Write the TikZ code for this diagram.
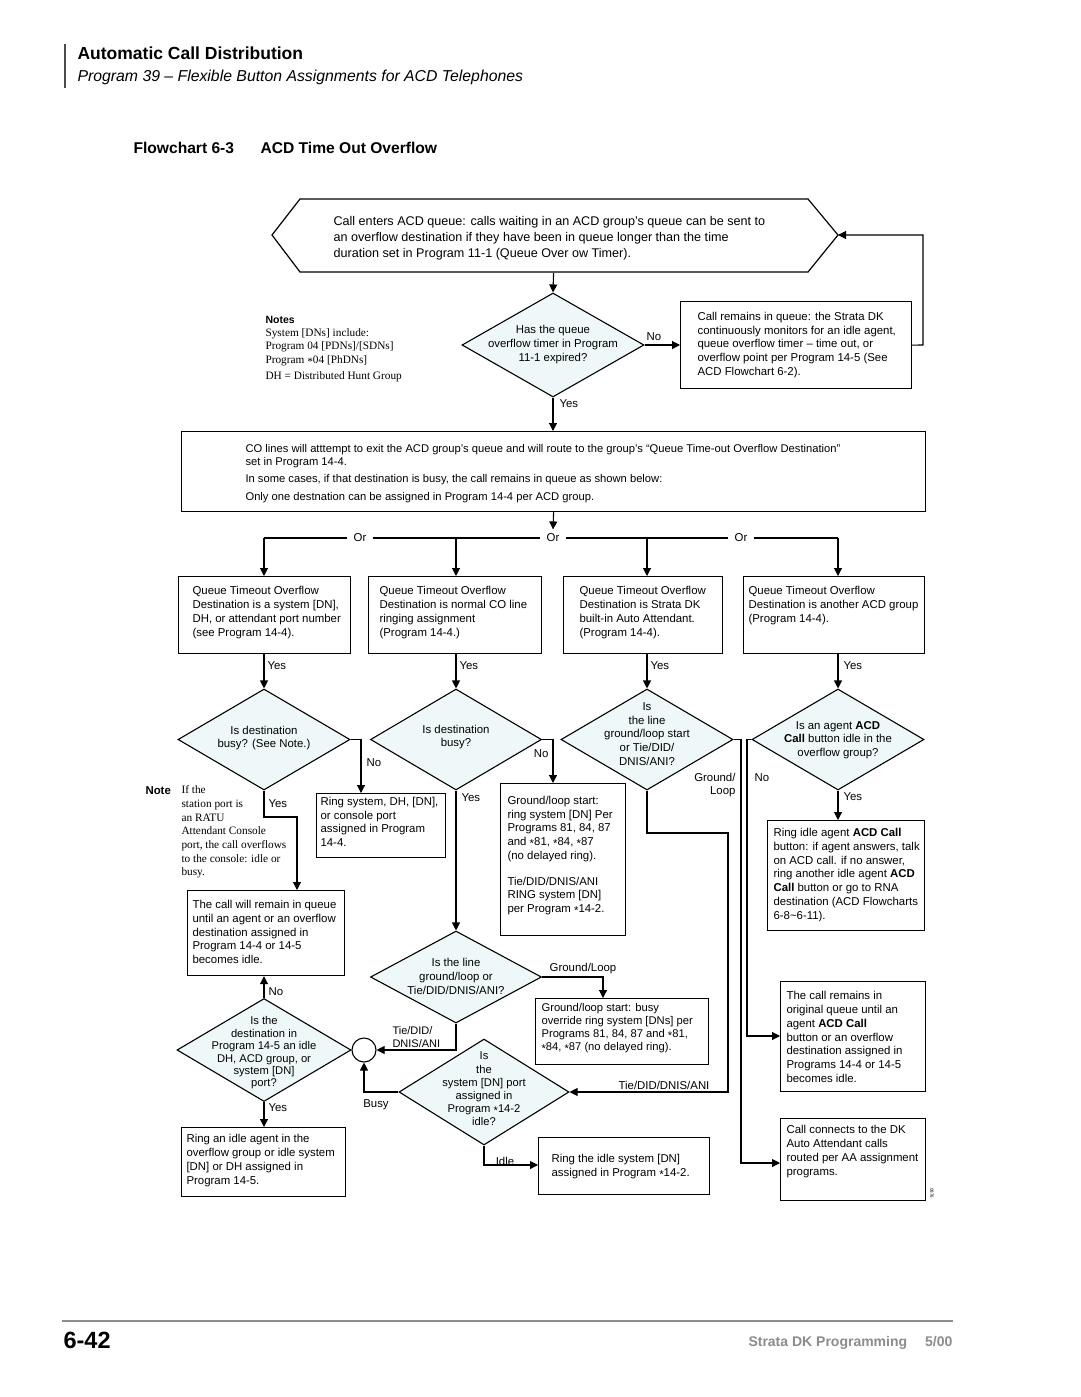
\documentclass[tikz,border=0pt]{standalone}
\usepackage{fontspec}
\setmainfont{Liberation Sans}
\newfontfamily\notefont{Liberation Serif}
\usetikzlibrary{arrows.meta,shapes.geometric,calc}
\definecolor{dfill}{HTML}{EFF8F8}
\definecolor{footgray}{HTML}{8C8C8C}
\newcommand\bxf{\fontsize{11.4}{13.7}\selectfont}
\newcommand\cast{\raisebox{-0.35ex}{*}}
\begin{document}
\begin{tikzpicture}[x=1pt,y=-1pt,line width=1.1pt,
  arr/.style={-{Triangle[length=8pt,width=8pt]}},
  box/.style={draw,line width=1.2pt,inner sep=0pt,anchor=north west},
  dia/.style={draw,diamond,fill=dfill,inner sep=0pt,line width=1.1pt},
  txt/.style={font=\bxf,align=left,inner sep=0pt,anchor=west},
  ctxt/.style={font=\bxf,align=center,inner sep=0pt},
  lbl/.style={font=\bxf,inner sep=0pt},
  note/.style={font=\notefont\fontsize{11.3}{13.7}\selectfont,align=left,inner sep=0pt,anchor=west},
  bhead/.style={anchor=west,inner sep=0pt,font=\bfseries\fontsize{11.4}{13}\selectfont},
]
\fill[white] (0,0) rectangle (1080,1397);
\useasboundingbox (0,0) rectangle (1080,1397);

% ---------- header ----------
\draw[line width=1.2pt,black!70] (65,44) -- (65,88);
\node[anchor=west,inner sep=0pt,font=\bfseries\fontsize{17.5}{20}\selectfont] (title) at (77,53) {Automatic Call Distribution};
\node[anchor=west,inner sep=0pt,font=\itshape\fontsize{15.8}{18}\selectfont] (subt) at (77,77) {Program 39 – Flexible Button Assignments for ACD Telephones};
\node[anchor=west,inner sep=0pt,font=\bfseries\fontsize{15.6}{18}\selectfont] (fc) at (133,148) {Flowchart 6-3};
\node[anchor=west,inner sep=0pt,font=\bfseries\fontsize{15.6}{18}\selectfont] (fct) at (260,148) {ACD Time Out Overflow};

% ---------- hexagon ----------
\coordinate (hexW) at (272,235);
\coordinate (hexE) at (838,235);
\draw[line width=1.2pt] (hexW) -- (300,199) -- (808,199) -- (hexE) -- (808,272) -- (300,272) -- cycle;
\node[minimum width=506,minimum height=73,inner sep=0pt,anchor=north west] (hex) at (300,199) {};
\node[txt,font=\fontsize{12.6}{16}\selectfont] (hexT) at (333,238) {Call enters ACD queue: calls waiting in an ACD group’s queue can be sent to\\an overflow destination if they have been in queue longer than the time\\duration set in Program 11-1 (Queue Over ow Timer).};

% ---------- first decision ----------
\node[dia,minimum width=182,minimum height=104] (d1) at (553,345) {};
\node[ctxt] (d1T) at (553,344.5) {Has the queue\\overflow timer in Program\\11-1 expired?};
\draw[arr] (hex.south) -- (d1.north);

\node[box,minimum width=231,minimum height=87] (rb) at (680,301) {};
\node[txt] (rbT) at (697,345) {Call remains in queue: the Strata DK\\continuously monitors for an idle agent,\\queue overflow timer – time out, or\\overflow point per Program 14-5 (See\\ACD Flowchart 6-2).};
\draw[arr] (d1.east) -- (d1.east -| rb.west);
\node[lbl,anchor=west] (no1) at (646,337) {No};
\draw[arr] (rb.east) -- (923,345) -- (923,235) -- (hexE);

% notes
\node[bhead,font=\bfseries\fontsize{10.5}{12}\selectfont] (notesH) at (265,320) {Notes};
\node[note] (notesT) at (265,355) {System [DNs] include:\\Program 04 [PDNs]/[SDNs]\\Program \cast04 [PhDNs]\\[2pt]DH = Distributed Hunt Group};

% ---------- big box ----------
\node[box,minimum width=744,minimum height=80] (big) at (181,431) {};
\node[txt,font=\fontsize{11.2}{12.6}\selectfont] (bigT) at (245,473.5) {CO lines will atttempt to exit the ACD group’s queue and will route to the group’s “Queue Time-out Overflow Destination”\\set in Program 14-4.\\[5pt]In some cases, if that destination is busy, the call remains in queue as shown below:\\[5pt]Only one destnation can be assigned in Program 14-4 per ACD group.};
\draw[arr] (d1.south) -- (d1.south |- big.north);
\node[lbl,anchor=west] (yes1) at (559,404) {Yes};

% ---------- Or distribution ----------
\coordinate (jA) at (264,538);
\coordinate (jB) at (456,538);
\coordinate (jC) at (647,538);
\coordinate (jD) at (838,538);
\node[lbl,inner xsep=6pt] (orA) at (360,538) {Or};
\node[lbl,inner xsep=6pt,inner ysep=4pt] (orB) at (553,538) {Or};
\node[lbl,inner xsep=6pt] (orC) at (741,538) {Or};
\draw (jA) -- (orA) -- (orB) -- (orC) -- (jD);
\draw[arr] (big.south) -- (orB.north);

\node[box,minimum width=172,minimum height=77] (qa) at (178,576) {};
\node[box,minimum width=173,minimum height=77] (qb) at (368,576) {};
\node[box,minimum width=159,minimum height=77] (qc) at (563,576) {};
\node[box,minimum width=181,minimum height=77] (qd) at (743,576) {};
\node[txt] (qaT) at (192,612.5) {Queue Timeout Overflow\\Destination is a system [DN],\\DH, or attendant port number\\(see Program 14-4).};
\node[txt] (qbT) at (379,612.5) {Queue Timeout Overflow\\Destination is normal CO line\\ringing assignment\\(Program 14-4.)};
\node[txt] (qcT) at (579,612.5) {Queue Timeout Overflow\\Destination is Strata DK\\built-in Auto Attendant.\\(Program 14-4).};
\node[txt] (qdT) at (748,605.5) {Queue Timeout Overflow\\Destination is another ACD group\\(Program 14-4).};
\draw[arr] (jA) -- (jA |- qa.north);
\draw[arr] (jB) -- (jB |- qb.north);
\draw[arr] (jC) -- (jC |- qc.north);
\draw[arr] (jD) -- (jD |- qd.north);

% ---------- second row decisions ----------
\node[dia,minimum width=172,minimum height=101] (dA) at (264,739.5) {};
\node[dia,minimum width=171,minimum height=101] (dB) at (456,739.5) {};
\node[dia,minimum width=172,minimum height=101] (dC) at (647,739.5) {};
\node[dia,minimum width=172,minimum height=101] (dD) at (838,739.5) {};
\node[ctxt] (dAT) at (264,738) {Is destination\\busy? (See Note.)};
\node[ctxt] (dBT) at (456,737) {Is destination\\busy?};
\node[ctxt] (dCT) at (647,734) {Is\\the line\\ground/loop start\\or Tie/DID/\\DNIS/ANI?};
\node[ctxt] (dDT) at (838,740) {Is an agent \textbf{ACD}\\\textbf{Call} button idle in the\\overflow group?};
\draw[arr] (jA |- qa.south) -- (dA.north);
\draw[arr] (jB |- qb.south) -- (dB.north);
\draw[arr] (jC |- qc.south) -- (dC.north);
\draw[arr] (jD |- qd.south) -- (dD.north);
\node[lbl,anchor=west] (yA) at (267,666) {Yes};
\node[lbl,anchor=west] (yB) at (459,666) {Yes};
\node[lbl,anchor=west] (yC) at (650,666) {Yes};
\node[lbl,anchor=west] (yD) at (843,666) {Yes};

% column A
\node[box,minimum width=129,minimum height=64] (ringA) at (316,793) {};
\node[txt] (ringAT) at (320,822) {Ring system, DH, [DN],\\or console port\\assigned in Program\\14-4.};
\draw[arr] (dA.east) -- (361,739.5) -- (361,793);
\node[lbl,anchor=west] (noA) at (366,763) {No};
\node[box,minimum width=157,minimum height=85] (remain) at (187,890) {};
\node[txt] (remainT) at (192,932) {The call will remain in queue\\until an agent or an overflow\\destination assigned in\\Program 14-4 or 14-5\\becomes idle.};
\draw[arr] (dA.south) -- (264,817) -- (297,817) -- (297,890);
\node[lbl,anchor=west] (yA2) at (268,804) {Yes};
\node[bhead] (noteH) at (145,791) {Note};
\node[note] (noteT) at (181,832) {If the\\station port is\\an RATU\\Attendant Console\\port, the call overflows\\to the console: idle or\\busy.};

% column B
\node[box,minimum width=125,minimum height=152] (glB) at (500,783) {};
\node[txt] (glBT) at (507,855.5) {Ground/loop start:\\ring system [DN] Per\\Programs 81, 84, 87\\and \cast81, \cast84, \cast87\\(no delayed ring).\\[12pt]Tie/DID/DNIS/ANI\\RING system [DN]\\per Program \cast14-2.};
\draw[arr] (dB.east) -- (553,739.5) -- (553,783);
\node[lbl,anchor=east] (noB) at (549,754) {No};
\node[dia,minimum width=171,minimum height=92] (dE) at (456,977) {};
\node[ctxt] (dET) at (456,976.5) {Is the line\\ground/loop or\\Tie/DID/DNIS/ANI?};
\draw[arr] (dB.south) -- (dE.north);
\node[lbl,anchor=west] (yB2) at (461,798) {Yes};

\node[box,minimum width=173,minimum height=66] (gl2) at (535,998) {};
\node[txt,font=\fontsize{11.2}{13}\selectfont] (gl2T) at (541,1028.5) {Ground/loop start: busy\\override ring system [DNs] per\\Programs 81, 84, 87 and \cast81,\\\cast84, \cast87 (no delayed ring).};
\draw[arr] (dE.east) -- (603,977) -- (603,998);
\node[lbl] (glLbl) at (583,969) {Ground/Loop};

\node[draw,circle,minimum size=24,inner sep=0pt,line width=1.1pt] (circ) at (364,1050) {};
\draw[arr] (dE.south) -- (456,1050) -- (circ.east);
\node[txt,font=\fontsize{11}{13.5}\selectfont] (tieLbl) at (392,1037) {Tie/DID/\\DNIS/ANI};

\node[dia,minimum width=170,minimum height=106] (dF) at (484,1092) {};
\node[ctxt,font=\fontsize{11.2}{13.2}\selectfont] (dFT) at (484,1089) {Is\\the\\system [DN] port\\assigned in\\Program \cast14-2\\idle?};
\draw[arr] (dF.west) -- (364,1092) -- (circ.south);
\node[lbl] (busy) at (376,1105) {Busy};
\node[box,minimum width=171,minimum height=57] (ri) at (538,1137) {};
\node[txt] (riT) at (551,1166.5) {Ring the idle system [DN]\\assigned in Program \cast14-2.};
\draw[arr] (dF.south) -- (484,1165) -- (ri.west |- 484,1165);
\node[lbl] (idle) at (505,1161) {Idle};

% column C
\draw[arr] (dC.south) -- (647,833) -- (728,833) -- (728,1092) -- (dF.east);
\node[lbl] (tieLbl2) at (664,1085) {Tie/DID/DNIS/ANI};
\node[box,minimum width=145,minimum height=82] (aa) at (780,1118) {};
\node[txt] (aaT) at (786,1151.5) {Call connects to the DK\\Auto Attendant calls\\routed per AA assignment\\programs.};
\draw[arr] (dC.east) -- (741,739.5) -- (741,1163) -- (aa.west |- 741,1163);
\node[txt,align=right,anchor=east] (glLbl2) at (736,785) {Ground/\\Loop};

% column D
\node[box,minimum width=157,minimum height=110] (rg) at (767,820) {};
\node[txt] (rgT) at (773,875) {Ring idle agent \textbf{ACD Call}\\button: if agent answers, talk\\on ACD call. if no answer,\\ring another idle agent \textbf{ACD}\\\textbf{Call} button or go to RNA\\destination (ACD Flowcharts\\6-8\textasciitilde6-11).};
\draw[arr] (dD.south) -- (dD.south |- rg.north);
\node[lbl,anchor=west] (yD2) at (843,797) {Yes};
\node[box,minimum width=145,minimum height=110] (cr) at (780,981) {};
\node[txt] (crT) at (786,1037) {The call remains in\\original queue until an\\agent \textbf{ACD Call}\\button or an overflow\\destination assigned in\\Programs 14-4 or 14-5\\becomes idle.};
\draw[arr] (dD.west) -- (747,739.5) -- (747,1036) -- (cr.west |- 747,1036);
\node[lbl,anchor=west] (noD) at (754,778) {No};
\node[inner sep=0pt,font=\fontsize{4.5}{5}\selectfont,rotate=-90] (code) at (932,1193) {0876};

% ---------- bottom left ----------
\node[dia,minimum width=174,minimum height=103] (dG) at (264,1050) {};
\node[ctxt,font=\fontsize{11.2}{12.4}\selectfont] (dGT) at (264,1053) {Is the\\destination in\\Program 14-5 an idle\\DH, ACD group, or\\system [DN]\\port?};
\draw[arr] (dG.north) -- (dG.north |- remain.south);
\node[lbl,anchor=west] (noG) at (268,992) {No};
\node[box,minimum width=164,minimum height=69] (bl) at (181,1127) {};
\node[txt] (blT) at (186,1160.5) {Ring an idle agent in the\\overflow group or idle system\\{[DN]} or DH assigned in\\Program 14-5.};
\draw[arr] (dG.south) -- (dG.south |- bl.north);
\node[lbl,anchor=west] (yG) at (268,1108) {Yes};

% ---------- footer ----------
\draw[footgray,line width=1.5pt] (62,1321) -- (953,1321);
\node[anchor=west,inner sep=0pt,font=\bfseries\fontsize{23.5}{26}\selectfont] (pg) at (63,1340) {6-42};
\node[anchor=east,inner sep=0pt,font=\bfseries\fontsize{14}{16}\selectfont,text=footgray] (foot) at (953,1343) {Strata DK Programming\hspace{18pt}5/00};
\end{tikzpicture}
\end{document}
